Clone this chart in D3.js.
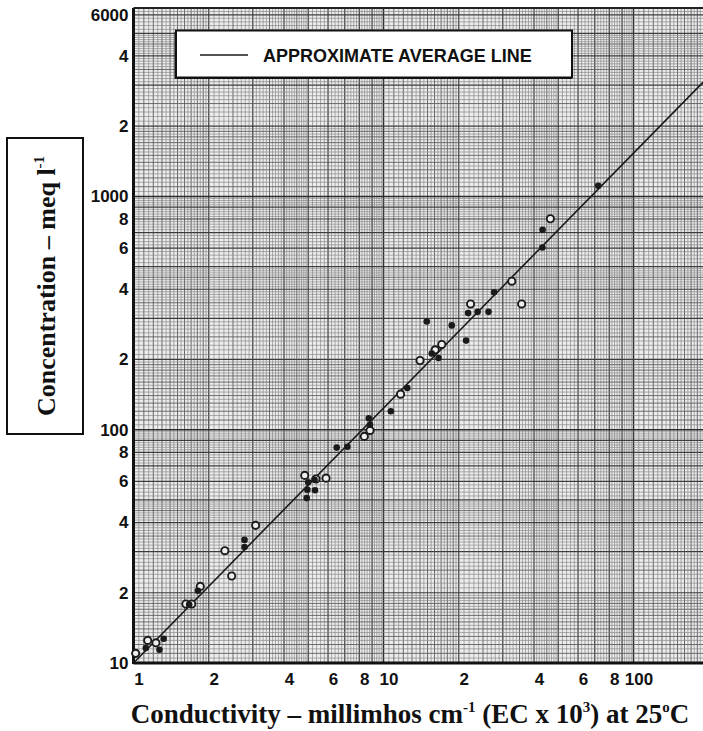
<!DOCTYPE html>
<html>
<head>
<meta charset="utf-8">
<script src="https://cdn.jsdelivr.net/npm/d3@7"></script>
<style>
  html, body { margin: 0; padding: 0; background: #fff; }
  svg { display: block; }
</style>
</head>
<body>
<svg id="chart" width="703" height="731"></svg>
<script>
// ---------------- DATA ----------------
const xTickValues = [1, 2, 4, 6, 8, 10, 20, 40, 60, 80, 100];
const xTickLabels = ["1", "2", "4", "6", "8", "10", "2", "4", "6", "8", "100"];
const yTickValues = [10, 20, 40, 60, 80, 100, 200, 400, 600, 800, 1000, 2000, 4000, 6000];
const yTickLabels = ["10", "2", "4", "6", "8", "100", "2", "4", "6", "8", "1000", "2", "4", "6000"];

// open-circle samples: [EC, concentration]
const openPoints = [
  [1.02, 11.0], [1.14, 12.5], [1.23, 12.2], [1.62, 17.9], [1.71, 17.9], [1.85, 21.3],
  [2.32, 30.3], [2.47, 23.6], [3.08, 38.9], [4.84, 63.7], [5.37, 61.5], [5.89, 62.0],
  [8.38, 93.6], [8.83, 99.3], [11.7, 142], [14.0, 198], [16.1, 220], [17.1, 232],
  [22.3, 346], [32.6, 433], [35.7, 346], [46.5, 802]
];
// filled-dot samples: [EC, concentration]
const filledPoints = [
  [1.12, 11.6], [1.27, 11.4], [1.32, 12.7], [1.67, 17.8], [1.81, 20.4],
  [2.78, 33.7], [2.78, 31.4], [5.00, 59.5], [4.96, 55.3], [4.93, 50.9], [5.32, 55.0],
  [5.30, 61.0], [6.50, 83.8], [7.17, 84.5], [8.73, 112], [8.83, 105], [10.7, 120],
  [12.45, 151], [14.9, 291], [15.6, 212], [16.6, 203], [18.75, 280], [21.4, 241],
  [21.8, 316], [23.8, 320], [26.3, 320], [27.7, 388], [43.2, 604], [43.3, 720], [72.3, 1110]
];
// approximate average line endpoints
const averageLine = [[1, 10], [190, 3090]];
const legendLabel = "APPROXIMATE AVERAGE LINE";

// ---------------- LAYOUT ----------------
const svg = d3.select("#chart");
const plot = { left: 133.5, right: 703, top: 8, bottom: 663 };
const xDomainMax = Math.pow(10, (plot.right - plot.left) / 250);
const yDomainMax = Math.pow(10, 1 + (plot.bottom - plot.top) / 233.3);

const x = d3.scaleLog().domain([1, xDomainMax]).range([plot.left, plot.right]);
const y = d3.scaleLog().domain([10, yDomainMax]).range([plot.bottom, plot.top]);

// ---------------- GRID (log paper) ----------------
function gridValues(maxVal, startDecade) {
  const vals = [];
  for (let d = startDecade; d <= maxVal; d *= 10) {
    for (let m = 1; m < 10 - 1e-9; ) {
      let step = m < 2 - 1e-9 ? 0.05 : (m < 5 - 1e-9 ? 0.1 : 0.2);
      const v = m * d;
      if (v <= maxVal * 1.0001) {
        const mm = Math.round(m * 100) / 100;
        let w;
        if (Math.abs(mm - 1) < 1e-6) w = 3;
        else if (Math.abs(mm - Math.round(mm)) < 1e-6) w = 2;
        else if (Math.abs(mm * 10 - Math.round(mm * 10)) < 1e-6 && mm < 2) w = 1;
        else if (Math.abs(mm * 2 - Math.round(mm * 2)) < 1e-6) w = 1;
        else w = 0;
        vals.push({ v, w });
      }
      m = Math.round((m + step) * 100) / 100;
    }
  }
  return vals;
}
const widths = [0.6, 0.9, 1.2, 1.5];
const colors = ["#7a7a7a", "#5e5e5e", "#3c3c3c", "#2a2a2a"];

const grid = svg.append("g");
grid.append("rect")
  .attr("x", plot.left).attr("y", plot.top)
  .attr("width", plot.right - plot.left).attr("height", plot.bottom - plot.top)
  .attr("fill", "#ececec");

grid.selectAll("line.gx").data(gridValues(xDomainMax, 1)).enter().append("line")
  .attr("x1", d => x(d.v)).attr("x2", d => x(d.v))
  .attr("y1", plot.top).attr("y2", plot.bottom)
  .attr("stroke", d => colors[d.w]).attr("stroke-width", d => widths[d.w]);
grid.selectAll("line.gy").data(gridValues(yDomainMax, 10)).enter().append("line")
  .attr("y1", d => y(d.v)).attr("y2", d => y(d.v))
  .attr("x1", plot.left).attr("x2", plot.right)
  .attr("stroke", d => colors[d.w]).attr("stroke-width", d => widths[d.w]);

// border
svg.append("line").attr("x1", plot.left).attr("x2", plot.left)
  .attr("y1", plot.top).attr("y2", plot.bottom + 1).attr("stroke", "#111").attr("stroke-width", 3);
svg.append("line").attr("x1", plot.left).attr("x2", plot.right)
  .attr("y1", plot.bottom).attr("y2", plot.bottom).attr("stroke", "#111").attr("stroke-width", 3);
svg.append("line").attr("x1", plot.left).attr("x2", plot.right)
  .attr("y1", plot.top).attr("y2", plot.top).attr("stroke", "#222").attr("stroke-width", 2);

// ---------------- AVERAGE LINE ----------------
svg.append("path")
  .datum(averageLine)
  .attr("d", d3.line().x(d => x(d[0])).y(d => y(d[1])))
  .attr("fill", "none").attr("stroke", "#1a1a1a").attr("stroke-width", 1.6);

// ---------------- POINTS ----------------
svg.append("g").selectAll("circle").data(openPoints).enter().append("circle")
  .attr("cx", d => x(d[0])).attr("cy", d => y(d[1])).attr("r", 3.6)
  .attr("fill", "#eeeeee").attr("stroke", "#1a1a1a").attr("stroke-width", 1.9);
svg.append("g").selectAll("circle").data(filledPoints).enter().append("circle")
  .attr("cx", d => x(d[0])).attr("cy", d => y(d[1])).attr("r", 3.3)
  .attr("fill", "#1a1a1a");

// ---------------- AXES ----------------
const tickFont = "'Liberation Sans', Arial, sans-serif";
const xAxis = svg.append("g").attr("transform", `translate(0,${plot.bottom})`)
  .call(d3.axisBottom(x).tickValues(xTickValues).tickSize(0).tickPadding(10)
    .tickFormat((d, i) => xTickLabels[i]));
xAxis.select(".domain").remove();
xAxis.selectAll("text").attr("dx", 5).attr("font-family", tickFont)
  .attr("font-weight", "bold").attr("font-size", 17).attr("fill", "#111");

const yAxis = svg.append("g").attr("transform", `translate(${plot.left},0)`)
  .call(d3.axisLeft(y).tickValues(yTickValues).tickSize(0).tickPadding(5)
    .tickFormat((d, i) => yTickLabels[i]));
yAxis.select(".domain").remove();
yAxis.selectAll("text").attr("font-family", tickFont)
  .attr("font-weight", "bold").attr("font-size", 17).attr("fill", "#111");

// ---------------- LEGEND ----------------
const leg = svg.append("g");
leg.append("rect").attr("x", 174.5).attr("y", 32).attr("width", 397).attr("height", 47)
  .attr("fill", "#111");
leg.append("rect").attr("x", 176).attr("y", 30.5).attr("width", 396).attr("height", 47)
  .attr("fill", "#fff").attr("stroke", "#111").attr("stroke-width", 2);
leg.append("line").attr("x1", 200).attr("x2", 248).attr("y1", 55).attr("y2", 55)
  .attr("stroke", "#1a1a1a").attr("stroke-width", 1.6);
leg.append("text").attr("x", 263).attr("y", 61.5).text(legendLabel)
  .attr("font-family", tickFont).attr("font-weight", "bold").attr("font-size", 18)
  .attr("fill", "#111");

// ---------------- TITLES ----------------
const serif = "'Liberation Serif', 'Times New Roman', serif";
const xt = svg.append("text").attr("x", 410).attr("y", 723).attr("text-anchor", "middle")
  .attr("font-family", serif).attr("font-weight", "bold").attr("font-size", 27).attr("fill", "#111");
xt.append("tspan").text("Conductivity – millimhos cm");
xt.append("tspan").text("-1").attr("font-size", 15).attr("dy", -11);
xt.append("tspan").text(" (EC x 10").attr("font-size", 27).attr("dy", 11);
xt.append("tspan").text("3").attr("font-size", 15).attr("dy", -11);
xt.append("tspan").text(") at 25").attr("font-size", 27).attr("dy", 11);
xt.append("tspan").text("o").attr("font-size", 15).attr("dy", -11);
xt.append("tspan").text("C").attr("font-size", 27).attr("dy", 11);

svg.append("rect").attr("x", 7).attr("y", 138).attr("width", 76).attr("height", 296)
  .attr("fill", "#fff").attr("stroke", "#111").attr("stroke-width", 2);
const yt = svg.append("text").attr("transform", "translate(55,286) rotate(-90)")
  .attr("text-anchor", "middle")
  .attr("font-family", serif).attr("font-weight", "bold").attr("font-size", 26).attr("fill", "#111");
yt.append("tspan").text("Concentration – meq l");
yt.append("tspan").text("-1").attr("font-size", 15).attr("dy", -11);
</script>
</body>
</html>
